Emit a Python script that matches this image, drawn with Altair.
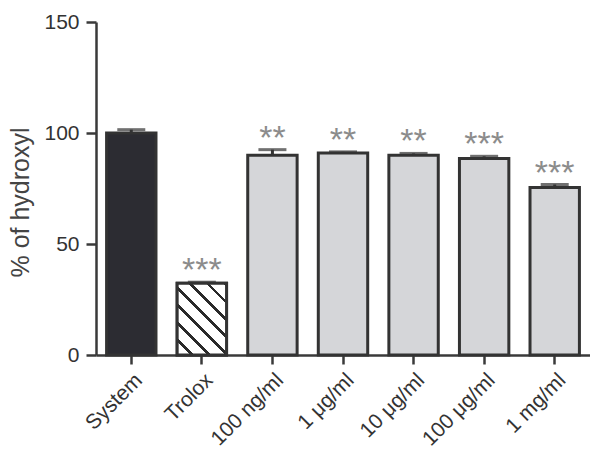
import altair as alt
import pandas as pd

categories = ["System", "Trolox", "100 ng/ml", "1 μg/ml", "10 μg/ml", "100 μg/ml", "1 mg/ml"]
means = [100.0, 32.3, 90.0, 91.0, 90.0, 88.5, 75.5]
errors = [1.5, 0.5, 2.5, 0.5, 0.8, 1.0, 1.3]
signif = ["", "***", "**", "**", "**", "***", "***"]
fills = ["#2c2c32", "#ffffff", "#d5d6d9", "#d5d6d9", "#d5d6d9", "#d5d6d9", "#d5d6d9"]

df = pd.DataFrame({"cat": categories, "mean": means, "err": errors, "sig": signif})
df["top"] = df["mean"] + df["err"]

FONT = "Liberation Sans"
DARK = "#333333"

# diagonal hatch as a striped linear gradient
periods = 7
stops = []
for i in range(periods):
    a = i / periods
    b = (i + 0.78) / periods
    c = (i + 1) / periods
    stops += [
        {"offset": a, "color": "#ffffff"},
        {"offset": b, "color": "#ffffff"},
        {"offset": b, "color": "#2a2a2a"},
        {"offset": c, "color": "#2a2a2a"},
    ]
hatch = {"gradient": "linear", "x1": 0, "y1": 1, "x2": 0.79, "y2": -0.145, "stops": stops}

x = alt.X("cat:N", sort=categories,
          scale=alt.Scale(paddingInner=0.3, paddingOuter=0.15),
          axis=alt.Axis(title=None, labelAngle=-45, labelAlign="right", labelBaseline="top",
                        labelFontSize=21, labelFont=FONT, labelColor=DARK, labelPadding=5,
                        tickSize=9, tickWidth=2.5, tickColor="#3a3a3a",
                        domainWidth=2.5, domainColor="#3a3a3a"))
y = alt.Y("mean:Q", scale=alt.Scale(domain=[0, 150], nice=False),
          axis=alt.Axis(values=[0, 50, 100, 150], title="% of hydroxyl", grid=False,
                        labelFontSize=21, labelFont=FONT, labelColor=DARK, labelPadding=7,
                        tickSize=10, tickWidth=2.5, tickColor="#3a3a3a",
                        domainWidth=2.5, domainColor="#3a3a3a",
                        titleFont=FONT, titleFontSize=25, titleFontWeight="normal",
                        titleColor="#444444", titleX=-68, titleY=180,
                        titleBaseline="alphabetic", titleAlign="center"))

base = alt.Chart(df)

bars = base.mark_bar(stroke=DARK, strokeWidth=3).encode(
    x=x, y=y,
    fill=alt.Fill("cat:N", scale=alt.Scale(domain=categories, range=fills), legend=None),
)
hatched = base.transform_filter(alt.datum.cat == "Trolox").mark_bar(
    stroke=DARK, strokeWidth=3, fill=hatch).encode(x=x, y=y)

err_rule = base.mark_rule(color=DARK, strokeWidth=3).encode(
    x=x, y="mean:Q", y2="top:Q")
err_cap = base.mark_tick(color=DARK, thickness=3, size=28).encode(x=x, y="top:Q")

labels = base.mark_text(font=FONT, fontSize=34, color="#8c8c8c", baseline="alphabetic",
                        dy=-1).encode(x=x, y=alt.Y("top:Q"), text="sig:N")

chart = alt.layer(bars, hatched, err_rule, err_cap, labels).properties(
    width=494, height=333,
    autosize=alt.AutoSizeParams(type="none"),
    padding={"left": 96, "top": 22, "right": 0, "bottom": 95},
    background="#ffffff",
).configure_view(stroke=None)

chart.save("out.html", embed_options={"renderer": "svg", "actions": False})
